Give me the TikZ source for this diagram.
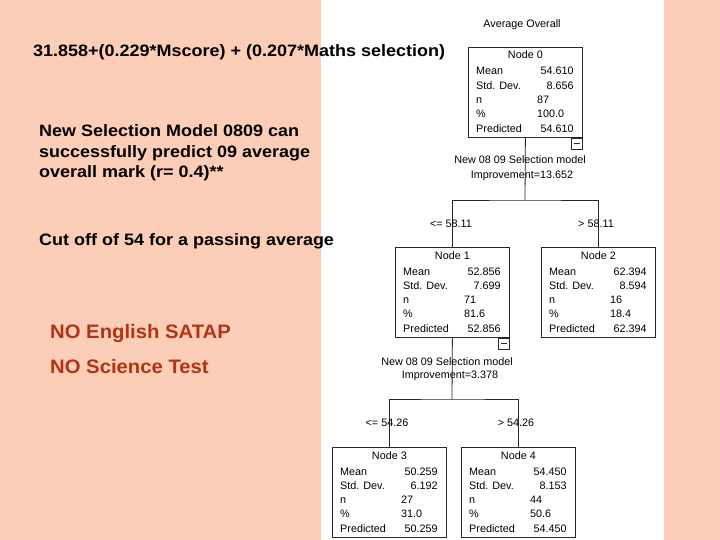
\documentclass[tikz,border=0pt]{standalone}
\usepackage{fontspec}
\setmainfont{Liberation Sans}
\newfontfamily\widesans[FakeStretch=1.09]{Liberation Sans}
\newfontfamily\redsans[FakeStretch=1.04]{Liberation Sans}
\definecolor{peach}{RGB}{252,205,183}
\definecolor{nored}{RGB}{178,52,22}
\definecolor{boxline}{RGB}{40,40,40}
\newcommand\tboxfill[7]{%
  \node[tt,anchor=base] at ([yshift=-12pt]#1.north) {#2};
  \node[tt,anchor=base west] at ([shift={(8pt,-28pt)}]#1.north west) {Mean};
  \node[tt,anchor=base west] at ([shift={(8pt,-42.3pt)}]#1.north west) {Std. Dev.};
  \node[tt,anchor=base west] at ([shift={(8pt,-56.6pt)}]#1.north west) {n};
  \node[tt,anchor=base west] at ([shift={(8pt,-70.9pt)}]#1.north west) {\%};
  \node[tt,anchor=base west] at ([shift={(8pt,-85.2pt)}]#1.north west) {Predicted};
  \node[tt,anchor=base east] at ([shift={(-9pt,-28pt)}]#1.north east) {#3};
  \node[tt,anchor=base east] at ([shift={(-9pt,-42.3pt)}]#1.north east) {#4};
  \node[tt,anchor=base west] at ([shift={(69pt,-56.6pt)}]#1.north west) {#5};
  \node[tt,anchor=base west] at ([shift={(69pt,-70.9pt)}]#1.north west) {#6};
  \node[tt,anchor=base east] at ([shift={(-9pt,-85.2pt)}]#1.north east) {#7};
}
\begin{document}
\begin{tikzpicture}[x=1pt,y=-1pt,
  tbox/.style={draw=boxline, line width=0.8pt, minimum width=114pt, minimum height=90pt, anchor=north west, inner sep=0pt},
  tt/.style={font=\fontsize{10.8}{12}\selectfont, inner sep=0pt},
  minusbox/.style={draw=boxline, line width=0.8pt, minimum size=11pt, anchor=north east, inner sep=0pt},
  conn/.style={draw=boxline, line width=0.8pt},
  bigtxt/.style={font=\widesans\fontsize{16.5}{20.5}\selectfont\bfseries, inner sep=0pt, anchor=base west, align=left},
  redtxt/.style={font=\redsans\fontsize{19.5}{22}\selectfont\bfseries, inner sep=0pt, anchor=base west, text=nored}]
\useasboundingbox (0,0) rectangle (720,540);
\fill[peach] (0,0) rectangle (720,540);
\fill[white] (321,0) rectangle (664,540);

% left texts
\node[bigtxt] (formula) at (33,57) {31.858+(0.229*Mscore) + (0.207*Maths selection)};
\node[bigtxt] (model) at (39,178) {New Selection Model 0809 can\\successfully predict 09 average\\overall mark (r= 0.4)**};
\node[bigtxt] (cutoff) at (39,245) {Cut off of 54 for a passing average};
\node[redtxt] (noeng) at (50,338) {NO English SATAP};
\node[redtxt] (nosci) at (50,373) {NO Science Test};

% tree
\node[tt] (title) at (522,25) {Average Overall};
\node[tbox] (n0) at (468,47) {};
\node[tbox] (n1) at (395,247) {};
\node[tbox] (n2) at (541,247) {};
\node[tbox] (n3) at (332,447) {};
\node[tbox] (n4) at (461,447) {};
\tboxfill{n0}{Node 0}{54.610}{8.656}{87}{100.0}{54.610}
\tboxfill{n1}{Node 1}{52.856}{7.699}{71}{81.6}{52.856}
\tboxfill{n2}{Node 2}{62.394}{8.594}{16}{18.4}{62.394}
\tboxfill{n3}{Node 3}{50.259}{6.192}{27}{31.0}{50.259}
\tboxfill{n4}{Node 4}{54.450}{8.153}{44}{50.6}{54.450}

\node[minusbox] (m0) at (n0.south east) {};
\draw[conn] ([xshift=2.5pt]m0.west) -- ([xshift=-2.5pt]m0.east);
\node[minusbox] (m1) at (n1.south east) {};
\draw[conn] ([xshift=2.5pt]m1.west) -- ([xshift=-2.5pt]m1.east);

\coordinate (s0) at (525,200);
\coordinate (s1) at (452,399);
\draw[conn] (n0.south) -- (s0);
\draw[conn] (n1.north) |- (s0) -| (n2.north);
\draw[conn] (n1.south) -- (s1);
\draw[conn] (n3.north) |- (s1) -| (n4.north);

\node[tt] (sp0a) at (520,160) {New 08 09 Selection model};
\node[tt] (sp0b) at (522,176) {Improvement=13.652};
\node[tt] (sp1a) at (447,362) {New 08 09 Selection model};
\node[tt] (sp1b) at (450,376) {Improvement=3.378};
\node[tt] (l1) at (451,224) {<= 58.11};
\node[tt] (l2) at (596,224) {> 58.11};
\node[tt] (l3) at (387,423) {<= 54.26};
\node[tt] (l4) at (516,423) {> 54.26};
\end{tikzpicture}
\end{document}
